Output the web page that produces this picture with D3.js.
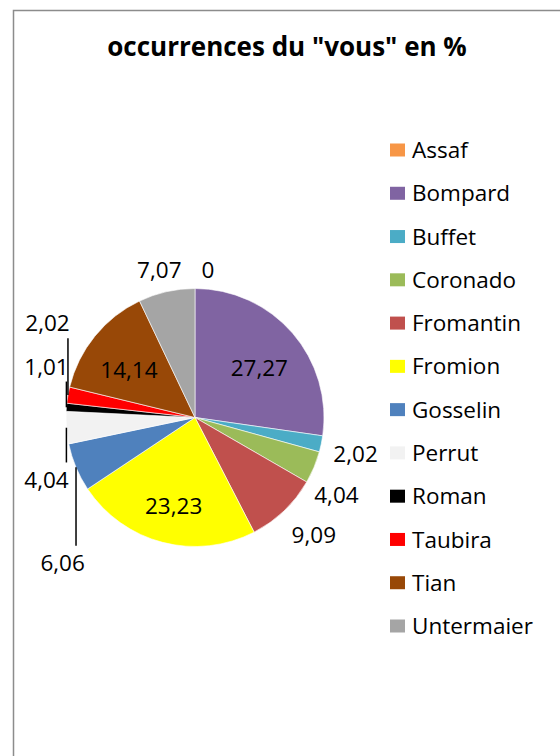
<!DOCTYPE html>
<html>
<head>
<meta charset="utf-8">
<script src="https://cdn.jsdelivr.net/npm/d3@7"></script>
<style>
  body { margin: 0; background: #fff; }
  svg { display: block; font-family: "Open Sans", "Noto Sans", sans-serif; }
</style>
</head>
<body>
<div id="chart"></div>
<script>
var titre = 'occurrences du "vous" en %';
var candidats = ["Assaf", "Bompard", "Buffet", "Coronado", "Fromantin", "Fromion",
	"Gosselin", "Perrut", "Roman", "Taubira", "Tian", "Untermaier"];
var pourcents = [0, 27.27, 2.02, 4.04, 9.09, 23.23, 6.06, 4.04, 1.01, 2.02, 14.14, 7.07];
var couleurs = ["#F79646", "#8064A2", "#4BACC6", "#9BBB59", "#C0504D", "#FFFF00",
	"#4F81BD", "#F2F2F2", "#000000", "#FF0000", "#984807", "#A5A5A5"];
// which labels sit inside the slice
var dedans = ["Bompard", "Fromion", "Tian"];

var width = 560, height = 756;
var cx = 195, cy = 417.5, r = 129;

// small nudges for the crowded labels (px), like excel moved them
var decalage = {
	"Assaf": { dx: 13, dy: 3 },
	"Buffet": { dx: 2, dy: 5 },
	"Coronado": { dx: -8, dy: 19 },
	"Fromantin": { dx: 7, dy: 8 },
	"Taubira": { dx: 12, dy: -68, trait: true },
	"Roman": { dx: 13, dy: -39, trait: true },
	"Perrut": { dx: 13, dy: 50, trait: true },
	"Gosselin": { dx: 17, dy: 87, trait: true }
};

var data = candidats.map(function (d, i) {
	return { nom: d, valeur: pourcents[i] };
});

var couleur = d3.scaleOrdinal().domain(candidats).range(couleurs);

var svg = d3.select("#chart").append("svg")
	.attr("width", width)
	.attr("height", height);

// cadre du graphique
svg.append("rect")
	.attr("x", 13.5).attr("y", 10.5)
	.attr("width", width).attr("height", height)
	.attr("fill", "none")
	.attr("stroke", "#8c8c8c")
	.attr("stroke-width", 1.5);

svg.append("text")
	.attr("x", 287).attr("y", 56)
	.attr("text-anchor", "middle")
	.style("font-weight", "bold")
	.style("font-size", "26px")
	.text(titre);

var pie = d3.pie().sort(null).value(function (d) { return d.valeur; });
var arcs = pie(data);

var arc = d3.arc().innerRadius(0).outerRadius(r);
var arcDedans = d3.arc().innerRadius(r * 0.66).outerRadius(r * 0.66);
var arcDehors = d3.arc().innerRadius(r + 10).outerRadius(r + 10);
var arcBord = d3.arc().innerRadius(r).outerRadius(r);

var g = svg.append("g").attr("transform", "translate(" + cx + "," + cy + ")");

g.selectAll(".part").data(arcs).enter()
	.append("path")
	.attr("class", "part")
	.attr("d", arc)
	.attr("fill", function (d) { return couleur(d.data.nom); })
	.attr("stroke", "#fff")
	.attr("stroke-width", 0.6);

function posLabel(d) {
	if (dedans.indexOf(d.data.nom) >= 0) {
		var c = arcDedans.centroid(d);
		return [c[0], c[1] + 6];
	}
	var p = arcDehors.centroid(d);
	var a = (d.startAngle + d.endAngle) / 2;
	// push the text box out so its near edge touches the ring
	p[0] += Math.sin(a) * 23;
	p[1] -= Math.cos(a) * 12;
	var n = decalage[d.data.nom];
	if (n) { p[0] += n.dx; p[1] += n.dy; }
	return p;
}

// leader lines
g.selectAll(".trait").data(arcs.filter(function (d) {
		return decalage[d.data.nom] && decalage[d.data.nom].trait;
	})).enter()
	.append("line")
	.attr("class", "trait")
	.attr("x1", function (d) { return arcBord.centroid(d)[0]; })
	.attr("y1", function (d) { return arcBord.centroid(d)[1]; })
	.attr("x2", function (d) { return arcBord.centroid(d)[0]; })
	.attr("y2", function (d) {
		var p = posLabel(d);
		var b = arcBord.centroid(d);
		return p[1] < b[1] ? p[1] + 15 : p[1] - 17;
	})
	.attr("stroke", "#000")
	.attr("stroke-width", 1.5);

g.selectAll(".etiquette").data(arcs).enter()
	.append("text")
	.attr("class", "etiquette")
	.attr("x", function (d) { return posLabel(d)[0]; })
	.attr("y", function (d) { return posLabel(d)[1]; })
	.attr("dy", "0.36em")
	.attr("text-anchor", "middle")
	.style("font-size", "22.5px")
	.style("fill", "#000")
	.text(function (d) { return String(d.data.valeur).replace(".", ","); });

// legende
var yLeg = d3.scalePoint().domain(candidats).range([150, 626]);

var leg = svg.append("g").selectAll(".leg").data(candidats).enter()
	.append("g")
	.attr("class", "leg")
	.attr("transform", function (d) { return "translate(390," + yLeg(d) + ")"; });

leg.append("rect")
	.attr("x", 0).attr("y", -6.5)
	.attr("width", 15).attr("height", 13)
	.attr("fill", function (d) { return couleur(d); });

leg.append("text")
	.attr("x", 22).attr("dy", "0.36em")
	.style("font-size", "22.5px")
	.text(function (d) { return d; });
</script>
</body>
</html>
